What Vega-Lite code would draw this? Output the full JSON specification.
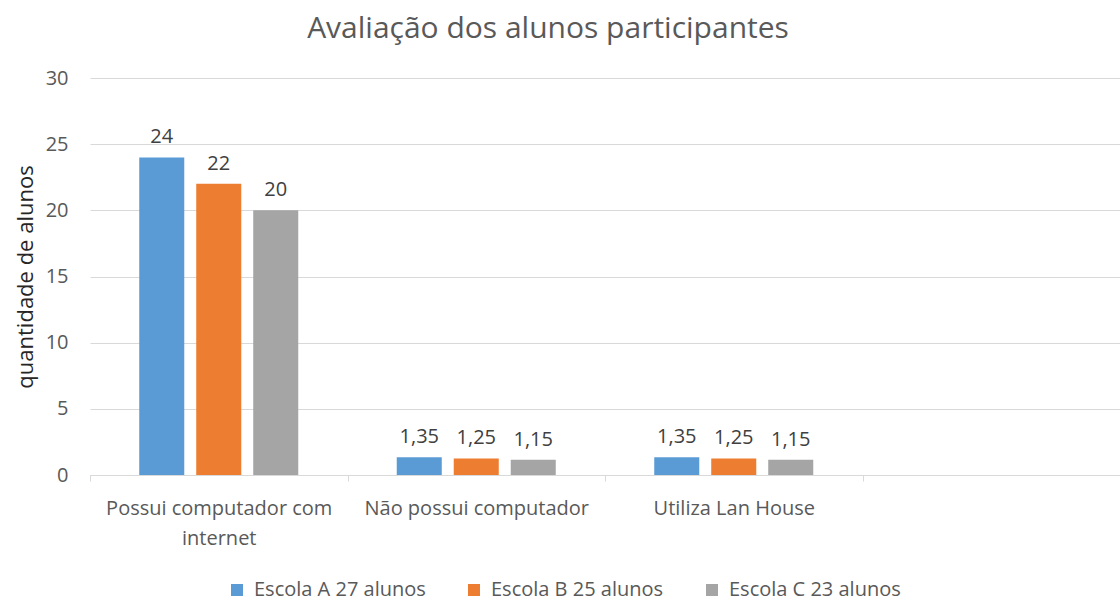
{
  "$schema": "https://vega.github.io/schema/vega-lite/v6.json",
  "width": 1030,
  "height": 397,
  "autosize": {"type": "none"},
  "padding": {"left": 90, "top": 78, "right": 0, "bottom": 129},
  "background": "white",
  "title": {
    "text": "Avaliação dos alunos participantes",
    "fontSize": 30,
    "font": "Open Sans",
    "fontWeight": "normal",
    "color": "#595959",
    "anchor": "middle",
    "dx": -57,
    "offset": 24
  },
  "data": {
    "values": [
      {"categoria": "Possui computador com internet", "escola": "Escola A 27 alunos", "valor": 24},
      {"categoria": "Possui computador com internet", "escola": "Escola B 25 alunos", "valor": 22},
      {"categoria": "Possui computador com internet", "escola": "Escola C 23 alunos", "valor": 20},
      {"categoria": "Não possui computador", "escola": "Escola A 27 alunos", "valor": 1.35},
      {"categoria": "Não possui computador", "escola": "Escola B 25 alunos", "valor": 1.25},
      {"categoria": "Não possui computador", "escola": "Escola C 23 alunos", "valor": 1.15},
      {"categoria": "Utiliza Lan House", "escola": "Escola A 27 alunos", "valor": 1.35},
      {"categoria": "Utiliza Lan House", "escola": "Escola B 25 alunos", "valor": 1.25},
      {"categoria": "Utiliza Lan House", "escola": "Escola C 23 alunos", "valor": 1.15}
    ]
  },
  "encoding": {
    "x": {
      "field": "categoria",
      "type": "nominal",
      "sort": null,
      "scale": {
        "domain": ["Possui computador com internet", "Não possui computador", "Utiliza Lan House", " "],
        "paddingInner": 0,
        "paddingOuter": 0
      },
      "axis": {
        "title": null,
        "labelAngle": 0,
        "labelFontSize": 20,
        "labelColor": "#595959",
        "labelPadding": 17,
        "labelLineHeight": 30,
        "labelLimit": 0,
        "tickSize": 6,
        "tickColor": "#d9d9d9",
        "domainColor": "#d9d9d9",
        "tickBand": "extent",
        "labelExpr": "datum.value == 'Possui computador com internet' ? ['Possui computador com', 'internet'] : datum.value"
      }
    },
    "xOffset": {
      "field": "escola",
      "type": "nominal",
      "scale": {"paddingInner": 0.21, "paddingOuter": 0.864}
    },
    "y": {
      "field": "valor",
      "type": "quantitative",
      "scale": {"domain": [0, 30]},
      "axis": {
        "values": [0, 5, 10, 15, 20, 25, 30],
        "grid": true,
        "gridColor": "#d9d9d9",
        "domain": false,
        "ticks": false,
        "labelFontSize": 20,
        "labelColor": "#595959",
        "labelPadding": 22,
        "title": "quantidade de alunos",
        "titleFontSize": 22,
        "titleFontWeight": "normal",
        "titleColor": "#262626",
        "titlePadding": 8
      }
    },
    "color": {
      "field": "escola",
      "type": "nominal",
      "scale": {
        "domain": ["Escola A 27 alunos", "Escola B 25 alunos", "Escola C 23 alunos"],
        "range": ["#5B9BD5", "#ED7D31", "#A5A5A5"]
      },
      "legend": {
        "title": null,
        "orient": "none",
        "direction": "horizontal",
        "legendX": 137,
        "legendY": 502,
        "symbolType": "square",
        "symbolSize": 144,
        "symbolStrokeWidth": 0,
        "labelFontSize": 20,
        "labelColor": "#595959",
        "labelOffset": 7,
        "labelLimit": 0,
        "columnPadding": 38
      }
    }
  },
  "layer": [
    {"mark": {"type": "bar"}},
    {
      "mark": {"type": "text", "baseline": "bottom", "dy": -10, "fontSize": 20},
      "encoding": {
        "text": {"field": "valor", "type": "quantitative", "format": ".4~r"},
        "color": {"value": "#404040"}
      }
    }
  ],
  "config": {
    "font": "Open Sans",
    "view": {"stroke": null},
    "locale": {
      "number": {"decimal": ",", "thousands": ".", "grouping": [3], "currency": ["R$", ""]}
    }
  }
}
